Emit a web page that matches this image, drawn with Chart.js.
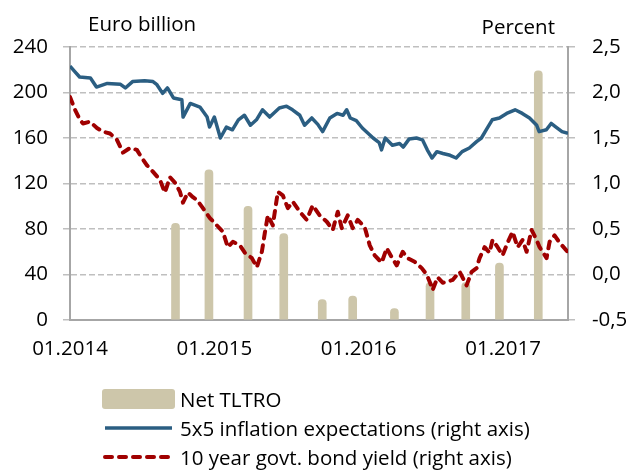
<!DOCTYPE html>
<html>
<head>
<meta charset="utf-8">
<script src="https://cdn.jsdelivr.net/npm/chart.js@4.4.1/dist/chart.umd.min.js"></script>
<style>
  html, body { margin: 0; padding: 0; background: #fff; }
  #wrap { position: relative; width: 629px; height: 471px; }
  canvas { position: absolute; left: 0; top: 0; }
  .legend { position: absolute; left: 102px; top: 384px; font-family: 'Open Sans'; font-size: 20.5px; color: #000; }
  .row { display: flex; align-items: center; height: 29px; white-space: nowrap; }
  .row svg { margin-right: 5px; }
</style>
</head>
<body>
<div id="wrap">
  <canvas id="chart" width="629" height="471"></canvas>
  <div class="legend" id="legend"></div>
</div>
<script>
// x values are months since January 2014
const xTickMonths = [0, 12, 24, 36];
const xTickLabels = ['01.2014', '01.2015', '01.2016', '01.2017'];
const leftTicks = [0, 40, 80, 120, 160, 200, 240];
const rightTicks = [-0.5, 0, 0.5, 1, 1.5, 2, 2.5];
const leftAxisTitle = 'Euro billion';
const rightAxisTitle = 'Percent';

// Net TLTRO, euro billion
const tltroMonths = [8.77, 11.55, 14.8, 17.77, 20.97, 23.5, 26.97, 29.93, 32.9, 35.7, 38.93];
const tltroValues = [85, 132, 100, 76, 18, 21, 10, 33, 33, 50, 219];

// 5x5 inflation expectations, percent
const inflMonths = [0, 0.4, 0.8, 1.7, 2.2, 3.1, 4.2, 4.6, 5.2, 6.2,
  6.9, 7.2, 7.7, 8.1, 8.6, 9.3, 9.4, 10.0, 10.8, 11.4,
  11.6, 12.0, 12.5, 13.0, 13.5, 14.0, 14.5, 15.0, 15.5, 16.0,
  16.6, 17.4, 18.0, 18.5, 19.1, 19.5, 20.1, 20.6, 21.0, 21.6,
  22.2, 22.7, 23.0, 23.3, 23.8, 24.3, 25.2, 25.7, 25.9, 26.2,
  26.8, 27.4, 27.7, 28.2, 28.8, 29.3, 29.7, 30.1, 30.5, 31.0,
  31.6, 32.1, 32.6, 33.2, 33.8, 34.2, 34.6, 35.1, 35.7, 36.3,
  37.0, 37.6, 38.2, 38.8, 39.0, 39.6, 40.0, 40.4, 40.9, 41.4];
const inflValues = [2.29, 2.23, 2.17, 2.16, 2.06, 2.10, 2.09, 2.05, 2.12, 2.13,
  2.12, 2.09, 1.99, 2.05, 1.94, 1.92, 1.73, 1.88, 1.84, 1.73,
  1.62, 1.73, 1.50, 1.62, 1.59, 1.70, 1.75, 1.64, 1.70, 1.81,
  1.73, 1.83, 1.85, 1.81, 1.75, 1.64, 1.72, 1.65, 1.57, 1.72,
  1.77, 1.75, 1.81, 1.72, 1.69, 1.61, 1.50, 1.45, 1.37, 1.50,
  1.42, 1.44, 1.40, 1.49, 1.50, 1.48, 1.37, 1.28, 1.35, 1.33,
  1.31, 1.28, 1.35, 1.39, 1.46, 1.50, 1.59, 1.70, 1.72, 1.77,
  1.81, 1.77, 1.72, 1.64, 1.57, 1.59, 1.66, 1.62, 1.57, 1.55];

// 10 year govt. bond yield, percent
const bondMonths = [0, 0.42, 0.83, 1.08, 1.66, 2.24, 2.74, 3.32, 3.90, 4.40,
  4.98, 5.56, 5.98, 6.40, 6.89, 7.48, 7.89, 8.31, 8.72, 9.14,
  9.39, 9.80, 10.22, 10.55, 11.05, 11.63, 12.21, 12.71, 13.12, 13.54,
  14.12, 14.53, 15.12, 15.53, 15.95, 16.20, 16.45, 16.86, 17.28, 17.69,
  18.11, 18.52, 19.10, 19.68, 20.18, 20.76, 21.35, 21.84, 22.26, 22.59,
  23.09, 23.50, 23.92, 24.50, 24.92, 25.33, 25.91, 26.33, 26.74, 27.16,
  27.66, 28.07, 28.65, 29.24, 29.65, 29.90, 30.15, 30.56, 30.98, 31.31,
  31.81, 32.39, 32.97, 33.39, 33.80, 34.05, 34.47, 34.88, 35.13, 35.55,
  35.96, 36.38, 36.79, 37.21, 37.62, 37.96, 38.37, 38.79, 39.04, 39.62,
  39.87, 40.28, 40.70, 41.36];
const bondValues = [1.95, 1.81, 1.70, 1.66, 1.68, 1.61, 1.57, 1.55, 1.48, 1.34,
  1.39, 1.37, 1.28, 1.20, 1.13, 1.04, 0.90, 1.07, 1.01, 0.91,
  0.79, 0.90, 0.85, 0.82, 0.73, 0.62, 0.54, 0.47, 0.30, 0.36,
  0.32, 0.24, 0.18, 0.08, 0.25, 0.46, 0.65, 0.54, 0.91, 0.87,
  0.73, 0.80, 0.69, 0.60, 0.76, 0.65, 0.58, 0.49, 0.69, 0.51,
  0.65, 0.51, 0.60, 0.52, 0.32, 0.21, 0.13, 0.29, 0.19, 0.10,
  0.25, 0.18, 0.14, 0.07, 0.00, -0.08, -0.17, -0.03, -0.09, -0.08,
  -0.06, 0.03, -0.12, 0.03, 0.07, 0.18, 0.30, 0.24, 0.38, 0.30,
  0.21, 0.35, 0.47, 0.30, 0.38, 0.25, 0.49, 0.38, 0.30, 0.18,
  0.36, 0.43, 0.35, 0.25];

const BAR_COLOR = '#cdc6aa';
const BLUE = '#2b5e82';
const RED = '#a00000';
const GRID = '#bfbfbf';
const AXIS = '#a6a6a6';
const FONT = { family: "'Open Sans'", size: 20.5 };

Chart.defaults.font.family = FONT.family;
Chart.defaults.font.size = FONT.size;
Chart.defaults.color = '#000';

function points(xs, ys) {
  return xs.map((x, i) => ({ x: x, y: ys[i] }));
}

function fmtPct(v) {
  return (Math.abs(v) < 1e-9 ? 0 : v).toFixed(1).replace('.', ',');
}

const axisTitles = {
  id: 'axisTitles',
  afterDraw(chart) {
    const { ctx, chartArea } = chart;
    ctx.save();
    ctx.font = FONT.size + 'px ' + FONT.family;
    ctx.fillStyle = '#000';
    ctx.textBaseline = 'middle';
    ctx.textAlign = 'left';
    ctx.fillText(leftAxisTitle, chartArea.left + 18, 25);
    ctx.textAlign = 'right';
    ctx.fillText(rightAxisTitle, chartArea.right - 13, 28);
    ctx.restore();
  }
};

const chart = new Chart(document.getElementById('chart'), {
  type: 'bar',
  data: {
    datasets: [{
      type: 'bar',
      label: 'Net TLTRO',
      data: points(tltroMonths, tltroValues),
      backgroundColor: BAR_COLOR,
      barThickness: 8,
      borderRadius: 4,
      yAxisID: 'y',
      order: 3
    },
    {
      type: 'line',
      label: '5x5 inflation expectations (right axis)',
      data: points(inflMonths, inflValues),
      borderColor: BLUE,
      borderWidth: 3.5,
      pointRadius: 0,
      tension: 0,
      borderJoinStyle: 'round',
      yAxisID: 'y1',
      order: 2
    },
    {
      type: 'line',
      label: '10 year govt. bond yield (right axis)',
      data: points(bondMonths, bondValues),
      borderColor: RED,
      borderWidth: 4,
      borderDash: [7, 7],
      borderCapStyle: 'round',
      borderJoinStyle: 'round',
      pointRadius: 0,
      tension: 0,
      yAxisID: 'y1',
      order: 1
    }]
  },
  options: {
    responsive: false,
    animation: false,
    layout: { padding: { top: 47, bottom: 111, left: 0, right: 0 } },
    plugins: { legend: { display: false }, tooltip: { enabled: false } },
    scales: {
      x: {
        type: 'linear',
        min: 0,
        max: 41.4,
        offset: false,
        afterBuildTicks: s => { s.ticks = xTickMonths.map(v => ({ value: v })); },
        afterFit: s => { s.height = 40; },
        ticks: {
          callback: (v, i) => xTickLabels[i],
          autoSkip: false,
          maxRotation: 0,
          padding: 17
        },
        grid: { display: false, drawTicks: false, offset: false },
        border: { color: AXIS, width: 2 }
      },
      y: {
        position: 'left',
        min: 0,
        max: 240,
        afterBuildTicks: s => { s.ticks = leftTicks.map(v => ({ value: v })); },
        afterFit: s => { s.width = 70; },
        ticks: { padding: 15 },
        grid: { color: GRID, lineWidth: 1.5, tickLength: 7, tickBorderDash: [6, 3] },
        border: { color: AXIS, width: 2, dash: [6, 3] }
      },
      y1: {
        position: 'right',
        min: -0.5,
        max: 2.5,
        afterBuildTicks: s => { s.ticks = rightTicks.map(v => ({ value: v })); },
        afterFit: s => { s.width = 61; },
        ticks: { padding: 17, callback: v => fmtPct(v) },
        grid: { color: GRID, lineWidth: 1.5, tickLength: 7, drawOnChartArea: false, tickBorderDash: [6, 3] },
        border: { color: AXIS, width: 2 }
      }
    }
  },
  plugins: [axisTitles]
});

// HTML legend built from the datasets, stacked one per row
function legendSymbol(ds) {
  if (ds.type === 'bar') {
    return '<svg width="73" height="20"><rect x="0" y="0" width="73" height="20" rx="3" fill="' + ds.backgroundColor + '"/></svg>';
  }
  const dash = ds.borderDash ? ' stroke-dasharray="' + ds.borderDash.join(',') + '" stroke-linecap="round"' : '';
  return '<svg width="73" height="20"><line x1="3" y1="10" x2="70" y2="10" stroke="' + ds.borderColor +
    '" stroke-width="' + ds.borderWidth + '"' + dash + '/></svg>';
}
document.getElementById('legend').innerHTML = chart.data.datasets
  .map(ds => '<div class="row">' + legendSymbol(ds) + '<span>' + ds.label + '</span></div>')
  .join('');
</script>
</body>
</html>
